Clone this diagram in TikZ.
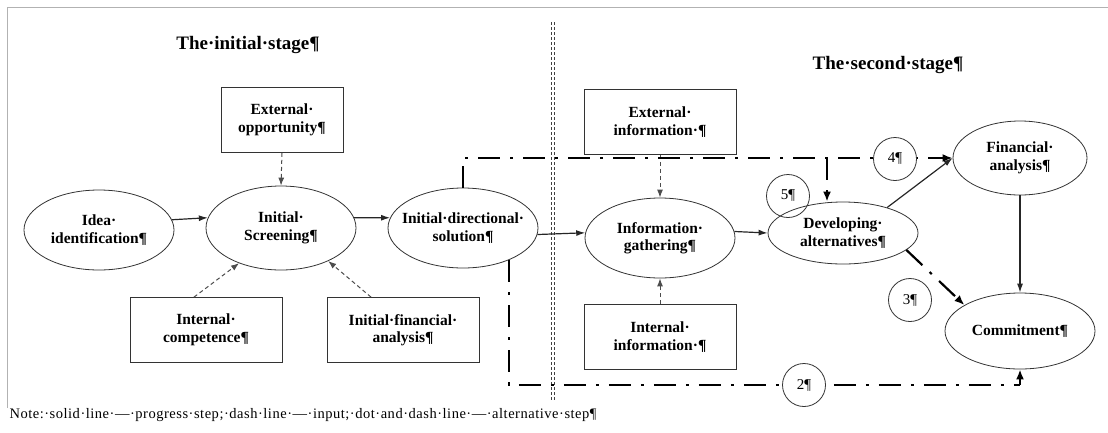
\documentclass[tikz,border=0pt]{standalone}
\usepackage{fontspec}
\setmainfont{Liberation Serif}
\newfontfamily\notefont[LetterSpace=3.6]{Liberation Serif}
\usetikzlibrary{shapes.geometric,arrows.meta}

\begin{document}
\begin{tikzpicture}[x=1pt,y=-1pt,
  title/.style={font=\bfseries\fontsize{19}{22}\selectfont},
  phase/.style={ellipse,draw=black!80,line width=0.8pt,inner xsep=-25pt,inner ysep=-6pt,
    align=center,minimum width=150,minimum height=80,
    font=\bfseries\fontsize{15.5}{17.5}\selectfont},
  source/.style={rectangle,draw=black!80,line width=0.8pt,inner sep=0pt,align=center,
    minimum width=152,minimum height=65,font=\bfseries\fontsize{15.5}{17.5}\selectfont},
  num/.style={circle,draw=black!80,fill=white,line width=0.8pt,inner sep=0pt,
    minimum size=43,font=\fontsize{15}{15}\selectfont},
  progress/.style={-{Latex[length=9pt,width=6pt]},line width=1.2pt,draw=black!85},
  input/.style={-{Latex[length=8pt,width=6pt]},dash pattern=on 4pt off 3pt,
    line width=1pt,draw=inputcol},
  altline/.style={dash pattern=on 22pt off 10pt on 3pt off 10pt,line width=2.2pt},
  altern/.style={altline,-{Latex[length=10pt,width=8pt]}},
  border/.style={dash pattern=on 3pt off 2pt,line width=0.7pt,draw=black!75}]

  \definecolor{framecol}{rgb}{0.7,0.7,0.7}
  \definecolor{inputcol}{rgb}{0.3,0.3,0.3}

  \useasboundingbox (0,0) rectangle (1108,432);

  % page frame
  \draw[framecol,line width=1pt] (7,408) -- (7,7) -- (1108,7);

  % border between the stages
  \draw[border] (551,22) -- (551,400);
  \draw[border] (554,22) -- (554,400);

  \node[title] (stage1) at (248,45) {The·initial·stage¶};
  \node[title] (stage2) at (888,65) {The·second·stage¶};

  % initial stage
  \node[phase] (idea) at (99,230) {Idea·\\identification¶};
  \node[phase,minimum height=84] (screen) at (281,228) {Initial·\\Screening¶};
  \node[phase] (direct) at (463,228) {Initial·directional·\\solution¶};

  \node[source,minimum width=122] (extopp) at (282,120) {External·\\opportunity¶};
  \node[source] (intcomp) at (206,330) {Internal·\\competence¶};
  \node[source] (initfin) at (403,330) {Initial·financial·\\analysis¶};

  % second stage
  \node[phase] (infog) at (660,238) {Information·\\gathering¶};
  \node[phase,minimum height=62] (devel) at (843,233) {Developing·\\alternatives¶};
  \node[phase,minimum width=134,minimum height=74] (finan) at (1020,158) {Financial·\\analysis¶};
  \node[phase,minimum height=76] (commit) at (1020,331) {Commitment¶};

  \node[source] (extinfo) at (660,122) {External·\\information·¶};
  \node[source] (intinfo) at (660,337) {Internal·\\information·¶};

  \coordinate (fork) at (827,158);
  \coordinate (low) at (0,385);

  % progress steps
  \draw[progress] (idea.8) -- (screen.172);
  \draw[progress] (screen.8) -- (direct.172);
  \draw[progress] (direct.-5) -- (infog.176);
  \draw[progress] (infog.5) -- (devel.180);
  \draw[progress] (devel.30) -- (finan.west);
  \draw[progress] (finan.south) -- (commit.north);

  % inputs
  \draw[input] (extopp.south) -- (screen.north);
  \draw[input] ([xshift=-12pt]intcomp.north) -- (screen.220);
  \draw[input] ([xshift=-32pt]initfin.north) -- (screen.-35);
  \draw[input] (extinfo.south) -- (infog.north);
  \draw[input] (intinfo.north) -- (infog.south);

  % alternative steps
  \draw[altern] (direct.north) |- (finan.west);
  \draw[altern] (fork) -- (devel.north -| fork);
  \draw[altern] (devel.-15) -- (commit.155);
  \draw[altline] (direct.-35) |- (low -| commit.south);
  \draw[altern] (low -| commit.south) -- (commit.south);

  \node[num] (n2) at (804,385) {2¶};
  \node[num] (n3) at (910,300) {3¶};
  \node[num] (n4) at (895,159) {4¶};
  \node[num,fill=none] (n5) at (788,196) {5¶};

  \node[anchor=west,font=\notefont\fontsize{14.5}{16}\selectfont] (note) at (6,415)
    {Note:·solid·line·—·progress·step;·dash·line·—·input;·dot·and·dash·line·—·alternative·step¶};

\end{tikzpicture}
\end{document}
